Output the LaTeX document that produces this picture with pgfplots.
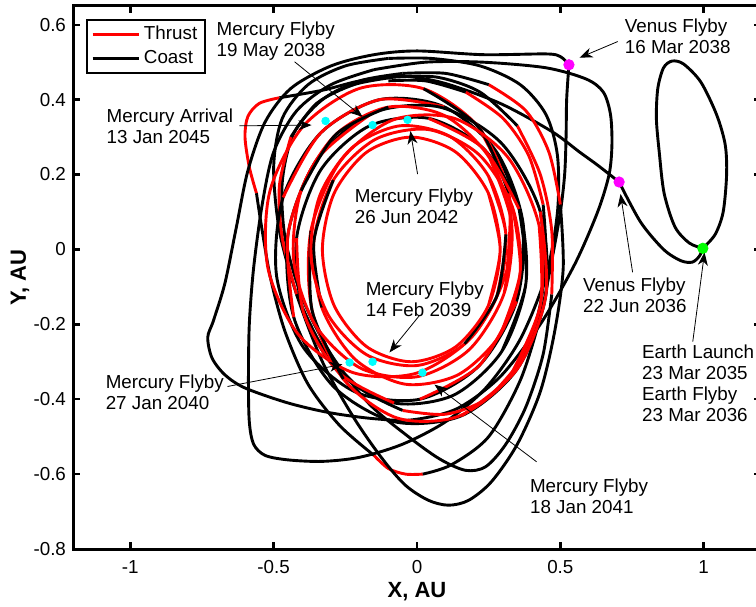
\documentclass[border=0pt]{standalone}
\usepackage{fontspec}
\setmainfont{Liberation Sans}
\usepackage{pgfplots}
\pgfplotsset{compat=1.18}
\usetikzlibrary{arrows.meta}
\definecolor{mcyan}{rgb}{0,1,1}
\definecolor{mmag}{rgb}{1,0,1}
\definecolor{mgreen}{rgb}{0,1,0}
\definecolor{mred}{rgb}{1,0,0}
\pgfplotsset{
 coast/.style={black, line width=1.45pt, smooth, forget plot},
 thrust/.style={mred, line width=1.45pt, smooth, forget plot},
}
\tikzset{
 ann/.style={anchor=west, align=left, inner sep=0pt, font=\fontsize{9.4}{10.5}\selectfont},
 arr/.style={-{Stealth[length=6.5pt,width=5pt,inset=2pt]}, line width=0.4pt, black},
}
\begin{document}
\begin{tikzpicture}
\begin{axis}[name=ax, scale only axis, width=344pt, height=271.5pt,
 xmin=-1.2, xmax=1.2, ymin=-0.8, ymax=0.65, clip=false,
 xtick={-1,-0.5,0,0.5,1}, ytick={-0.8,-0.6,-0.4,-0.2,0,0.2,0.4,0.6},
 tick align=inside, major tick length=3.5pt,
 every tick/.style={black, line width=1.2pt},
 axis line style={line width=1.5pt},
 tick label style={font=\fontsize{9.4}{11}\selectfont},
 /pgf/number format/assume math mode=true,
 xticklabel style={yshift=-2pt},
 xlabel={X, AU}, ylabel={Y, AU},
 label style={font=\fontsize{11}{13}\selectfont\bfseries},
 xlabel style={at={(axis description cs:0.5,0)}, anchor=center, yshift=-21.5pt},
 ylabel style={at={(axis description cs:0,0.5)}, anchor=center, yshift=26.5pt},
 legend style={at={(0.019,0.976)}, anchor=north west, draw=black, line width=1pt, font=\fontsize{9.4}{11}\selectfont, inner xsep=2pt, inner ysep=1pt, row sep=0pt, cells={anchor=west}},
 legend image code/.code={\draw[#1] (0pt,0pt) -- (23pt,0pt);},
]
\addlegendimage{mred, line width=1.45pt}\addlegendentry{Thrust}
\addlegendimage{black, line width=1.45pt}\addlegendentry{Coast}

% flyby markers
\addplot[only marks, mark=*, mark size=2.6pt, mmag, forget plot] coordinates {(0.705,0.18) (0.53,0.493)};
\addplot[only marks, mark=*, mark size=2.6pt, mgreen, forget plot] coordinates {(0.997,0.003)};

% Earth loop and transfer to Venus
\addplot[coast] coordinates {(0.997,0.003) (1.04,0.04) (1.068,0.1) (1.08,0.2) (1.075,0.28) (1.045,0.36) (0.99,0.447) (0.93,0.495) (0.89,0.503) (0.86,0.485) (0.84,0.43) (0.835,0.35) (0.845,0.26) (0.862,0.15) (0.9,0.06) (0.95,0.017) (0.997,0.003)};
\addplot[coast] coordinates {(0.997,0.003) (0.985,-0.018) (0.96,-0.034) (0.92,-0.03) (0.86,0.0) (0.78,0.073) (0.705,0.18)};

% T1
\addplot[coast] coordinates {(0.705,0.18) (0.63,0.225) (0.567,0.26) (0.47,0.315) (0.29,0.39) (0.09,0.445) (-0.06,0.463) (-0.2,0.45) (-0.33,0.425) (-0.48,0.405)};
\addplot[thrust] coordinates {(-0.48,0.405) (-0.55,0.39) (-0.59,0.355) (-0.6,0.3) (-0.585,0.22) (-0.56,0.15)};
\addplot[coast] coordinates {(-0.56,0.15) (-0.54,0.05) (-0.51,-0.08) (-0.46,-0.22) (-0.38,-0.36) (-0.27,-0.47) (-0.15,-0.55)};
\addplot[thrust] coordinates {(-0.15,-0.55) (-0.1,-0.585) (-0.04,-0.6) (0.02,-0.6)};
\addplot[coast] coordinates {(0.02,-0.6) (0.12,-0.575) (0.25,-0.5) (0.36,-0.35) (0.43,-0.18) (0.47,-0.03) (0.5,0.1) (0.515,0.2) (0.52,0.3) (0.522,0.4) (0.53,0.493)};

% T2
\addplot[coast] coordinates {(0.53,0.493) (0.5,0.515) (0.45,0.522) (0.23,0.52) (0.0,0.53) (-0.15,0.52) (-0.3,0.49) (-0.44,0.43) (-0.53,0.34) (-0.59,0.21) (-0.63,0.06) (-0.67,-0.09) (-0.71,-0.19) (-0.73,-0.235) (-0.715,-0.29) (-0.67,-0.335) (-0.6,-0.37) (-0.45,-0.41) (-0.305,-0.436) (-0.15,-0.452) (-0.016,-0.455) (0.14,-0.425) (0.29,-0.34) (0.43,-0.2) (0.55,-0.04) (0.63,0.1) (0.67,0.2) (0.68,0.28) (0.675,0.36) (0.65,0.42) (0.59,0.455) (0.45,0.485) (0.23,0.5) (0.03,0.5) (-0.15,0.48)};

% T3
\addplot[coast] coordinates {(-0.15,0.48) (-0.3,0.44) (-0.42,0.37) (-0.5,0.26) (-0.54,0.12) (-0.57,-0.05) (-0.585,-0.2) (-0.588,-0.35) (-0.585,-0.46) (-0.57,-0.52) (-0.53,-0.55) (-0.45,-0.562) (-0.33,-0.566) (-0.2,-0.555) (-0.05,-0.52) (0.1,-0.46) (0.24,-0.37) (0.36,-0.24) (0.45,-0.07) (0.49,0.1) (0.49,0.25) (0.45,0.36) (0.36,0.44) (0.22,0.49) (0.05,0.51) (-0.1,0.51)};

% T4
\addplot[coast] coordinates {(-0.1,0.51) (-0.25,0.49) (-0.38,0.44) (-0.47,0.35) (-0.5,0.22) (-0.48,0.05) (-0.42,-0.12) (-0.33,-0.3) (-0.22,-0.45) (-0.12,-0.56) (-0.04,-0.63) (0.04,-0.67) (0.11,-0.683) (0.18,-0.67) (0.26,-0.62) (0.35,-0.52) (0.43,-0.38) (0.48,-0.22) (0.51,-0.05) (0.5,0.12)};
\addplot[thrust] coordinates {(0.5,0.12) (0.46,0.26) (0.38,0.37) (0.25,0.44)};
\addplot[coast] coordinates {(0.25,0.44) (0.1,0.47) (-0.05,0.47)};

% T5
\addplot[coast] coordinates {(-0.05,0.47) (-0.2,0.45) (-0.33,0.4) (-0.43,0.31) (-0.47,0.18) (-0.46,0.03) (-0.4,-0.13) (-0.3,-0.28) (-0.17,-0.41) (-0.03,-0.5) (0.08,-0.56) (0.17,-0.59) (0.24,-0.58) (0.31,-0.52) (0.38,-0.42) (0.44,-0.28) (0.47,-0.12)};
\addplot[thrust] coordinates {(0.47,-0.12) (0.47,0.05) (0.43,0.2) (0.35,0.33)};
\addplot[coast] coordinates {(0.35,0.33) (0.22,0.42) (0.07,0.46) (-0.08,0.46)};

% T6
\addplot[coast] coordinates {(-0.08,0.46) (-0.22,0.44) (-0.35,0.39) (-0.44,0.3)};
\addplot[thrust] coordinates {(-0.44,0.3) (-0.48,0.17) (-0.47,0.03) (-0.42,-0.12)};
\addplot[coast] coordinates {(-0.42,-0.12) (-0.33,-0.26) (-0.2,-0.37) (-0.05,-0.43)};
\addplot[thrust] coordinates {(-0.05,-0.43) (0.1,-0.44) (0.24,-0.4) (0.35,-0.31)};
\addplot[coast] coordinates {(0.35,-0.31) (0.42,-0.18) (0.45,-0.03) (0.44,0.12)};
\addplot[thrust] coordinates {(0.44,0.12) (0.39,0.25) (0.3,0.35) (0.17,0.42)};
\addplot[coast] coordinates {(0.17,0.42) (0.03,0.45) (-0.1,0.45)};

% inner rings
\addplot[coast] coordinates {(0.347,-0.139) (0.37,0.07) (0.277,0.261) (0.094,0.381) (-0.13,0.40) (-0.336,0.311) (-0.467,0.139) (-0.49,-0.07) (-0.397,-0.261) (-0.214,-0.381) (0.01,-0.40) (0.216,-0.311) (0.347,-0.139) (0.37,0.07) (0.277,0.261)};
\addplot[thrust] coordinates {(0.094,0.381) (-0.13,0.40) (-0.336,0.311) (-0.467,0.139)};
\addplot[thrust] coordinates {(0.01,-0.40) (0.216,-0.311) (0.347,-0.139)};

\addplot[coast] coordinates {(0.35,-0.319) (0.45,-0.12) (0.43,0.101) (0.294,0.284) (0.08,0.38) (-0.156,0.364) (-0.35,0.239) (-0.45,0.04) (-0.43,-0.181) (-0.294,-0.364) (-0.08,-0.46) (0.156,-0.444) (0.35,-0.319) (0.45,-0.12) (0.43,0.101)};
\addplot[thrust] coordinates {(-0.156,0.364) (-0.35,0.239) (-0.45,0.04) (-0.43,-0.181)};
\addplot[thrust] coordinates {(0.156,-0.444) (0.35,-0.319) (0.45,-0.12) (0.43,0.101)};

\addplot[thrust] coordinates {(0.314,-0.053) (0.32,0.15) (0.214,0.327) (0.023,0.429) (-0.2,0.43) (-0.397,0.329) (-0.514,0.153) (-0.52,-0.05) (-0.414,-0.227) (-0.223,-0.329) (0.0,-0.33) (0.197,-0.229) (0.314,-0.053) (0.32,0.15) (0.214,0.327)};
\addplot[coast] coordinates {(0.32,0.15) (0.214,0.327) (0.023,0.429)};

\addplot[coast] coordinates {(0.296,-0.272) (0.38,-0.09) (0.356,0.108) (0.232,0.269) (0.04,0.35) (-0.168,0.329) (-0.336,0.212) (-0.42,0.03) (-0.396,-0.168) (-0.272,-0.329) (-0.08,-0.41) (0.128,-0.389) (0.296,-0.272) (0.38,-0.09) (0.356,0.108)};
\addplot[thrust] coordinates {(-0.42,0.03) (-0.396,-0.168) (-0.272,-0.329) (-0.08,-0.41)};
\addplot[thrust] coordinates {(0.356,0.108) (0.232,0.269) (0.04,0.35)};

\addplot[thrust] coordinates {(0.326,-0.337) (0.43,-0.15) (0.426,0.063) (0.317,0.246) (0.13,0.35) (-0.083,0.346) (-0.266,0.237) (-0.37,0.05) (-0.366,-0.163) (-0.257,-0.346) (-0.07,-0.45) (0.143,-0.446) (0.326,-0.337) (0.43,-0.15) (0.426,0.063)};
\addplot[coast] coordinates {(-0.37,0.05) (-0.366,-0.163) (-0.257,-0.346)};

\addplot[thrust] coordinates {(0.304,-0.117) (0.33,0.07) (0.254,0.243) (0.097,0.357) (-0.1,0.38) (-0.283,0.307) (-0.404,0.157) (-0.43,-0.03) (-0.354,-0.203) (-0.197,-0.317) (0.0,-0.34) (0.183,-0.267) (0.304,-0.117) (0.33,0.07) (0.254,0.243)};
\addplot[coast] coordinates {(-0.1,0.38) (-0.283,0.307) (-0.404,0.157)};

\addplot[thrust] coordinates {(0.292,-0.225) (0.36,-0.06) (0.332,0.115) (0.215,0.254) (0.04,0.32) (-0.145,0.294) (-0.292,0.185) (-0.36,0.02) (-0.332,-0.155) (-0.215,-0.294) (-0.04,-0.36) (0.145,-0.334) (0.292,-0.225) (0.36,-0.06) (0.332,0.115)};
\addplot[coast] coordinates {(-0.292,0.185) (-0.36,0.02) (-0.332,-0.155)};

\addplot[thrust] coordinates {(0.279,-0.124) (0.31,0.04) (0.249,0.196) (0.114,0.302) (-0.06,0.33) (-0.226,0.272) (-0.339,0.144) (-0.37,-0.02) (-0.309,-0.176) (-0.174,-0.282) (0.0,-0.31) (0.166,-0.252) (0.279,-0.124) (0.31,0.04) (0.249,0.196)};
\addplot[coast] coordinates {(0.166,-0.252) (0.279,-0.124) (0.31,0.04)};

\addplot[thrust] coordinates {(0.249,-0.15) (0.29,0) (0.249,0.15) (0.135,0.26) (-0.02,0.3) (-0.175,0.26) (-0.289,0.15) (-0.33,0) (-0.289,-0.15) (-0.175,-0.26) (-0.02,-0.3) (0.135,-0.26) (0.249,-0.15) (0.29,0) (0.249,0.15)};

% Mercury flybys
\addplot[only marks, mark=*, mark size=1.9pt, mcyan, forget plot] coordinates {(-0.319,0.343) (-0.155,0.332) (-0.033,0.346) (-0.155,-0.30) (-0.235,-0.302) (0.019,-0.329)};

% annotations
\node[ann] at (axis cs:-0.700,0.556) {Mercury Flyby\\19 May 2038};
\node[ann] at (axis cs:-1.084,0.328) {Mercury Arrival\\13 Jan 2045};
\node[ann] at (axis cs:0.724,0.569) {Venus Flyby\\16 Mar 2038};
\node[ann] at (axis cs:-0.218,0.114) {Mercury Flyby\\26 Jun 2042};
\node[ann] at (axis cs:0.578,-0.123) {Venus Flyby\\22 Jun 2036};
\node[ann] at (axis cs:-0.180,-0.133) {Mercury Flyby\\14 Feb 2039};
\node[ann] at (axis cs:0.784,-0.357) {Earth Launch\\23 Mar 2035\\Earth Flyby\\23 Mar 2036};
\node[ann] at (axis cs:-1.087,-0.382) {Mercury Flyby\\27 Jan 2040};
\node[ann] at (axis cs:0.393,-0.658) {Mercury Flyby\\18 Jan 2041};

\draw[arr] (axis cs:-0.427,0.501) -- (axis cs:-0.190,0.354);
\draw[arr] (axis cs:-0.620,0.330) -- (axis cs:-0.368,0.332);
\draw[arr] (axis cs:0.700,0.555) -- (axis cs:0.567,0.512);
\draw[arr] (axis cs:0.002,0.201) -- (axis cs:-0.023,0.316);
\draw[arr] (axis cs:0.752,-0.061) -- (axis cs:0.710,0.148);
\draw[arr] (axis cs:0.009,-0.176) -- (axis cs:-0.096,-0.275);
\draw[arr] (axis cs:0.962,-0.246) -- (axis cs:1.003,-0.008);
\draw[arr] (axis cs:-0.661,-0.366) -- (axis cs:-0.260,-0.307);
\draw[arr] (axis cs:0.417,-0.567) -- (axis cs:0.061,-0.361);
\end{axis}
\pgfresetboundingbox
\path[use as bounding box] ([xshift=-36.5pt,yshift=-28.5pt]ax.south west) rectangle ([xshift=-2.5pt,yshift=3pt]ax.north east);
\end{tikzpicture}
\end{document}
